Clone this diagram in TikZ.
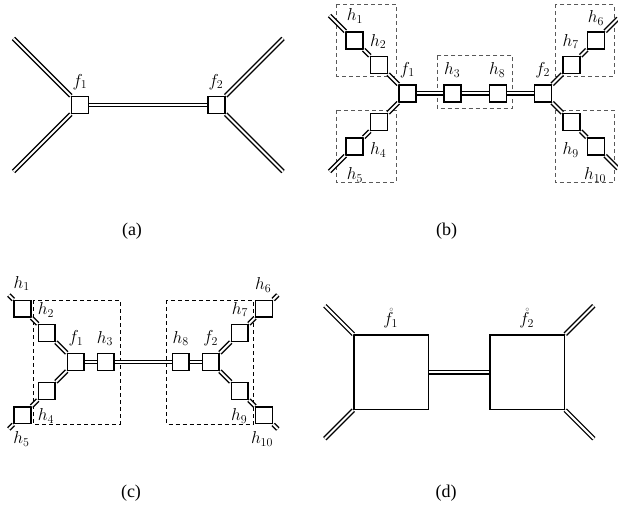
\documentclass[tikz,border=0pt]{standalone}
\usepackage{fontspec}
\newfontfamily\capfont{Liberation Serif}
\tikzset{
 dbl/.style={double=white, double distance=2pt, line width=1.35pt},
 sq/.style={draw, line width=1.5pt, fill=white, minimum size=16.8pt, inner sep=0pt},
 bigsq/.style={draw, line width=1.5pt, fill=white, minimum size=74.5pt, inner sep=0pt},
 grpb/.style={draw=black!65, dash pattern=on 4pt off 3pt, line width=0.9pt},
 grpc/.style={draw=black, dash pattern=on 4pt off 3pt, line width=0.8pt},
 lab/.style={font=\fontsize{17}{20}\selectfont, inner sep=0pt},
 captxt/.style={font=\capfont\fontsize{18}{21}\selectfont, inner sep=0pt},
}
\begin{document}
\begin{tikzpicture}[x=1pt,y=-1pt]
\useasboundingbox (0,0) rectangle (618,513);
% ---------------- (a)
\node[sq] (af1) at (80,105) {};
\node[sq] (af2) at (216.5,105) {};
\coordinate (aE1) at (13.5,38.5);
\coordinate (aE2) at (13.5,171.5);
\coordinate (aE3) at (283,38.5);
\coordinate (aE4) at (283,171.5);
\draw[dbl] (aE1) -- (af1);
\draw[dbl] (aE2) -- (af1);
\draw[dbl] (af1) -- (af2);
\draw[dbl] (af2) -- (aE3);
\draw[dbl] (af2) -- (aE4);
\node[lab] (laf1) at (80,82) {$f_1$};
\node[lab] (laf2) at (216,82) {$f_2$};
\node[captxt] (capa) at (132,231) {(a)};
% ---------------- (b)
\draw[grpb] (336.7,4.3) rectangle (396,76);
\draw[grpb] (336.7,110) rectangle (396,182.3);
\draw[grpb] (437.3,55.7) rectangle (512.7,108.3);
\draw[grpb] (555,4.3) rectangle (614,76);
\draw[grpb] (555,110) rectangle (614,182.3);
\node[sq] (bf1) at (407.5,93.5) {};
\node[sq] (bh3) at (452.5,93.5) {};
\node[sq] (bh8) at (498,93.5) {};
\node[sq] (bf2) at (543,93.5) {};
\node[sq] (bh2) at (379,65) {};
\node[sq] (bh1) at (354.5,40.5) {};
\node[sq] (bh4) at (379,122) {};
\node[sq] (bh5) at (354.5,146.5) {};
\node[sq] (bh7) at (571.5,65) {};
\node[sq] (bh6) at (596,40.5) {};
\node[sq] (bh9) at (571.5,122) {};
\node[sq] (bh10) at (596,146.5) {};
\coordinate (bE1) at (329.5,15.5);
\coordinate (bE2) at (329.5,171.5);
\coordinate (bE3) at (618,18.5);
\coordinate (bE4) at (618,168.5);
\draw[dbl] (bE1) -- (bh1);
\draw[dbl] (bh1) -- (bh2);
\draw[dbl] (bh2) -- (bf1);
\draw[dbl] (bE2) -- (bh5);
\draw[dbl] (bh5) -- (bh4);
\draw[dbl] (bh4) -- (bf1);
\draw[dbl] (bf1) -- (bh3);
\draw[dbl] (bh3) -- (bh8);
\draw[dbl] (bh8) -- (bf2);
\draw[dbl] (bf2) -- (bh7);
\draw[dbl] (bh7) -- (bh6);
\draw[dbl] (bh6) -- (bE3);
\draw[dbl] (bf2) -- (bh9);
\draw[dbl] (bh9) -- (bh10);
\draw[dbl] (bh10) -- (bE4);
\node[lab] (lbh1) at (355,16) {$h_1$};
\node[lab] (lbh2) at (378.3,41.7) {$h_2$};
\node[lab] (lbf1) at (407.3,70) {$f_1$};
\node[lab] (lbh3) at (452.3,70) {$h_3$};
\node[lab] (lbh8) at (497.3,70) {$h_8$};
\node[lab] (lbf2) at (542.7,70) {$f_2$};
\node[lab] (lbh7) at (570.7,41.7) {$h_7$};
\node[lab] (lbh6) at (596,18) {$h_6$};
\node[lab] (lbh4) at (378.3,150) {$h_4$};
\node[lab] (lbh5) at (355,175) {$h_5$};
\node[lab] (lbh9) at (570.7,150) {$h_9$};
\node[lab] (lbh10) at (595,175) {$h_{10}$};
\node[captxt] (capb) at (446.5,231) {(b)};
% ---------------- (c)
\draw[grpc] (33.3,300) rectangle (120,424);
\draw[grpc] (166.7,300) rectangle (253.3,424);
\node[sq] (cf1) at (75.8,362) {};
\node[sq] (ch3) at (105.8,362) {};
\node[sq] (ch8) at (180.8,362) {};
\node[sq] (cf2) at (210.8,362) {};
\node[sq] (ch2) at (46.8,333) {};
\node[sq] (ch1) at (22.5,308.7) {};
\node[sq] (ch4) at (46.8,391) {};
\node[sq] (ch5) at (22.5,415.3) {};
\node[sq] (ch7) at (239.8,333) {};
\node[sq] (ch6) at (264.1,308.7) {};
\node[sq] (ch9) at (239.8,391) {};
\node[sq] (ch10) at (264.1,415.3) {};
\coordinate (cE1) at (8.8,295);
\coordinate (cE2) at (8.8,429);
\coordinate (cE3) at (277.8,295);
\coordinate (cE4) at (277.8,429);
\draw[dbl] (cE1) -- (ch1);
\draw[dbl] (ch1) -- (ch2);
\draw[dbl] (ch2) -- (cf1);
\draw[dbl] (cE2) -- (ch5);
\draw[dbl] (ch5) -- (ch4);
\draw[dbl] (ch4) -- (cf1);
\draw[dbl] (cf1) -- (ch3);
\draw[dbl] (ch3) -- (ch8);
\draw[dbl] (ch8) -- (cf2);
\draw[dbl] (cf2) -- (ch7);
\draw[dbl] (ch7) -- (ch6);
\draw[dbl] (ch6) -- (cE3);
\draw[dbl] (cf2) -- (ch9);
\draw[dbl] (ch9) -- (ch10);
\draw[dbl] (ch10) -- (cE4);
\node[lab] (lch1) at (21.7,283.3) {$h_1$};
\node[lab] (lch2) at (46,310) {$h_2$};
\node[lab] (lcf1) at (76,338.3) {$f_1$};
\node[lab] (lch3) at (105,338.3) {$h_3$};
\node[lab] (lch8) at (180.7,338.3) {$h_8$};
\node[lab] (lcf2) at (210.7,338.3) {$f_2$};
\node[lab] (lch7) at (240,309.3) {$h_7$};
\node[lab] (lch6) at (263.3,285) {$h_6$};
\node[lab] (lch4) at (46,416) {$h_4$};
\node[lab] (lch9) at (239.3,416) {$h_9$};
\node[lab] (lch5) at (21.5,439) {$h_5$};
\node[lab] (lch10) at (262,439) {$h_{10}$};
\node[captxt] (capc) at (131,493) {(c)};
% ---------------- (d)
\node[bigsq] (df1) at (391.3,372.2) {};
\node[bigsq] (df2) at (527.3,372.2) {};
\coordinate (dE1) at (324.8,305.7);
\coordinate (dE2) at (324.8,438.7);
\coordinate (dE3) at (593.8,305.7);
\coordinate (dE4) at (593.8,438.7);
\draw[dbl] (dE1) -- (df1);
\draw[dbl] (dE2) -- (df1);
\draw[dbl] (df1) -- (df2);
\draw[dbl] (df2) -- (dE3);
\draw[dbl] (df2) -- (dE4);
\node[lab] (ldf1) at (390.7,318.3) {$\mathring{f}_1$};
\node[lab] (ldf2) at (526.7,318.3) {$\mathring{f}_2$};
\node[captxt] (capd) at (446,493) {(d)};
\end{tikzpicture}
\end{document}
